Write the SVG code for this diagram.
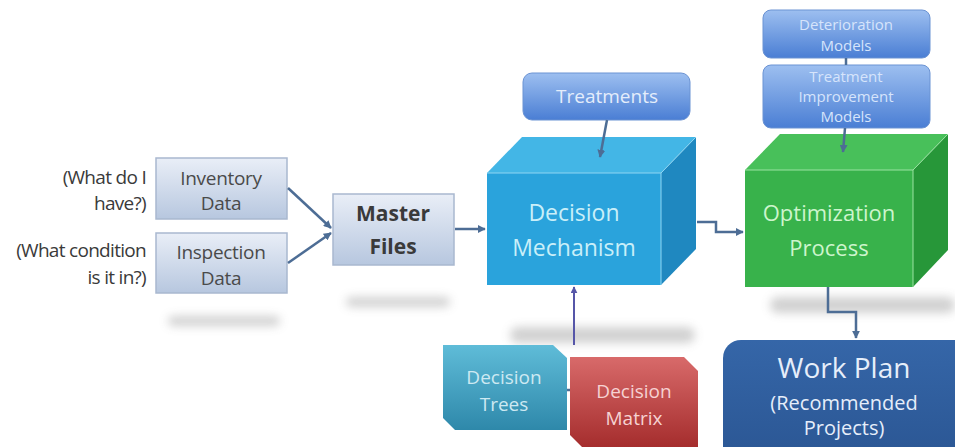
<svg xmlns="http://www.w3.org/2000/svg" width="955" height="447" viewBox="0 0 955 447">
  <style>
    text { font-family: "Open Sans", "Liberation Sans", sans-serif; text-anchor: middle; }
    .q { font-size: 19px; fill: #3a3a3a; text-anchor: end; letter-spacing: -0.7px; }
    .dat { font-size: 19px; fill: #4a4a4a; letter-spacing: -0.3px; }
    .mst { font-size: 21px; font-weight: bold; fill: #3a3a3a; }
    .cube-b { font-size: 23px; fill: #c9eff9; }
    .cube-g { font-size: 22px; fill: #cdf5cd; }
    .mdl { font-size: 15px; fill: #d6e4fb; }
    .trt { font-size: 19px; fill: #e4edfb; }
    .dt { font-size: 19px; fill: #cde9f2; }
    .dm { font-size: 19px; fill: #f6d2d2; }
    .wp1 { font-size: 28px; fill: #e6eefa; }
    .wp2 { font-size: 20px; fill: #e6eefa; }
    .lnk { fill: none; stroke: #4d6d95; stroke-width: 2.5; }
    .shadow { fill: #9a9a9a; filter: url(#soft); }
  </style>
  <defs>
    <linearGradient id="dataFill" x1="0" y1="0" x2="0" y2="1">
      <stop offset="0" stop-color="#e9eef7"/>
      <stop offset="1" stop-color="#b7c7df"/>
    </linearGradient>
    <linearGradient id="pillFill" x1="0" y1="0" x2="0" y2="1">
      <stop offset="0" stop-color="#9dbff0"/>
      <stop offset="1" stop-color="#4a7ed4"/>
    </linearGradient>
    <linearGradient id="treeFill" x1="0" y1="0" x2="0" y2="1">
      <stop offset="0" stop-color="#5fbcd8"/>
      <stop offset="1" stop-color="#2e88aa"/>
    </linearGradient>
    <linearGradient id="matrixFill" x1="0" y1="0" x2="0" y2="1">
      <stop offset="0" stop-color="#d86a6a"/>
      <stop offset="1" stop-color="#a52d2d"/>
    </linearGradient>
    <linearGradient id="planFill" x1="0" y1="0" x2="0" y2="1">
      <stop offset="0" stop-color="#3566a8"/>
      <stop offset="1" stop-color="#2a5592"/>
    </linearGradient>
    <filter id="soft" x="-30%" y="-200%" width="160%" height="500%">
      <feGaussianBlur stdDeviation="5"/>
    </filter>
    <marker id="arr" viewBox="0 0 10 10" refX="9" refY="5" markerWidth="3.2" markerHeight="3.2" orient="auto">
      <path d="M0,0 L10,5 L0,10 z" fill="#4d6d95"/>
    </marker>
    <marker id="arrP" viewBox="0 0 10 10" refX="9" refY="5" markerWidth="3.5" markerHeight="3.5" orient="auto">
      <path d="M0,0 L10,5 L0,10 z" fill="#5656a8"/>
    </marker>
  </defs>

  <!-- soft floor shadows -->
  <g id="shadows">
    <rect class="shadow" x="168" y="316" width="112" height="10" rx="5" opacity="0.45"/>
    <rect class="shadow" x="346" y="297" width="104" height="10" rx="5" opacity="0.45"/>
    <rect class="shadow" x="510" y="327" width="185" height="16" rx="8" opacity="0.45"/>
    <rect class="shadow" x="770" y="297" width="185" height="16" rx="8" opacity="0.45"/>
  </g>

  <!-- question labels -->
  <g id="labels">
    <text class="q" x="146" y="184">(What do I</text>
    <text class="q" x="146" y="210">have?)</text>
    <text class="q" x="146" y="257">(What condition</text>
    <text class="q" x="146" y="284">is it in?)</text>
  </g>

  <g id="inventory">
    <rect x="156" y="158" width="131" height="61" fill="url(#dataFill)" stroke="#a9b8cf" stroke-width="1.5"/>
    <text class="dat" x="221" y="185">Inventory</text>
    <text class="dat" x="221" y="210">Data</text>
  </g>

  <g id="inspection">
    <rect x="156" y="233" width="131" height="60" fill="url(#dataFill)" stroke="#a9b8cf" stroke-width="1.5"/>
    <text class="dat" x="221" y="259">Inspection</text>
    <text class="dat" x="221" y="285">Data</text>
  </g>

  <g id="master">
    <rect x="333" y="194" width="121" height="71" fill="url(#dataFill)" stroke="#a9b8cf" stroke-width="1.5"/>
    <text class="mst" x="393" y="221">Master</text>
    <text class="mst" x="393" y="254">Files</text>
  </g>

  <g id="treatments">
    <rect x="523" y="73" width="167" height="47" rx="9" fill="url(#pillFill)" stroke="#6b93d3"/>
    <text class="trt" x="607" y="103">Treatments</text>
  </g>

  <g id="decision-mechanism">
    <polygon points="487,173 522,137 696,137 661,173" fill="#43b6e6"/>
    <polygon points="661,173 696,137 696,249 661,285" fill="#1f88c0"/>
    <rect x="487" y="173" width="174" height="112" fill="#2aa3dc"/>
    <polyline points="487,173 661,173 696,137" fill="none" stroke="#8fd6f3" stroke-width="1"/>
    <line x1="661" y1="173" x2="661" y2="285" stroke="#8fd6f3" stroke-width="1"/>
    <text class="cube-b" x="574" y="221">Decision</text>
    <text class="cube-b" x="574" y="256">Mechanism</text>
  </g>

  <g id="deterioration">
    <rect x="763" y="10" width="167" height="48" rx="8" fill="url(#pillFill)" stroke="#6b93d3"/>
    <text class="mdl" x="846" y="30">Deterioration</text>
    <text class="mdl" x="846" y="51">Models</text>
  </g>

  <g id="improvement">
    <rect x="763" y="65" width="167" height="63" rx="8" fill="url(#pillFill)" stroke="#6b93d3"/>
    <text class="mdl" x="846" y="82">Treatment</text>
    <text class="mdl" x="846" y="102">Improvement</text>
    <text class="mdl" x="846" y="122">Models</text>
  </g>

  <g id="optimization">
    <polygon points="745,170 780,134 948,134 913,170" fill="#48c05a"/>
    <polygon points="913,170 948,134 948,250 913,287" fill="#279739"/>
    <rect x="745" y="170" width="168" height="117" fill="#38b24b"/>
    <polyline points="745,170 913,170 948,134" fill="none" stroke="#9ae3a2" stroke-width="1"/>
    <line x1="913" y1="170" x2="913" y2="287" stroke="#9ae3a2" stroke-width="1"/>
    <text class="cube-g" x="829" y="221">Optimization</text>
    <text class="cube-g" x="829" y="256">Process</text>
  </g>

  <g id="decision-trees">
    <path d="M443,345 L553,345 L567,358 L567,430 L455,430 L443,418 Z" fill="url(#treeFill)"/>
    <text class="dt" x="504" y="384">Decision</text>
    <text class="dt" x="504" y="411">Trees</text>
  </g>

  <g id="decision-matrix">
    <path d="M570,357 L684,357 L698,371 L698,447 L582,447 L570,435 Z" fill="url(#matrixFill)"/>
    <text class="dm" x="634" y="398">Decision</text>
    <text class="dm" x="634" y="425">Matrix</text>
  </g>

  <g id="work-plan">
    <rect x="723" y="340" width="250" height="130" rx="18" fill="url(#planFill)"/>
    <text class="wp1" x="844" y="378">Work Plan</text>
    <text class="wp2" x="844" y="410">(Recommended</text>
    <text class="wp2" x="844" y="435">Projects)</text>
  </g>

  <g id="connectors">
    <line class="lnk" x1="288" y1="188" x2="331" y2="228" marker-end="url(#arr)"/>
    <line class="lnk" x1="288" y1="263" x2="331" y2="233" marker-end="url(#arr)"/>
    <line class="lnk" x1="455" y1="229" x2="485" y2="229" marker-end="url(#arr)"/>
    <line class="lnk" x1="607" y1="120" x2="600" y2="157" marker-end="url(#arr)"/>
    <polyline class="lnk" points="697,222 716,222 716,232 743,232" marker-end="url(#arr)"/>
    <line class="lnk" x1="846" y1="58" x2="846" y2="65"/>
    <line class="lnk" x1="845" y1="128" x2="843" y2="152" marker-end="url(#arr)"/>
    <polyline class="lnk" points="828,287 828,312 856,312 856,338" marker-end="url(#arr)"/>
    <line x1="574" y1="345" x2="574" y2="287" fill="none" stroke="#5656a8" stroke-width="2" marker-end="url(#arrP)"/>
    <line class="lnk" x1="567" y1="390" x2="570" y2="390" stroke-width="2"/>
  </g>
</svg>
